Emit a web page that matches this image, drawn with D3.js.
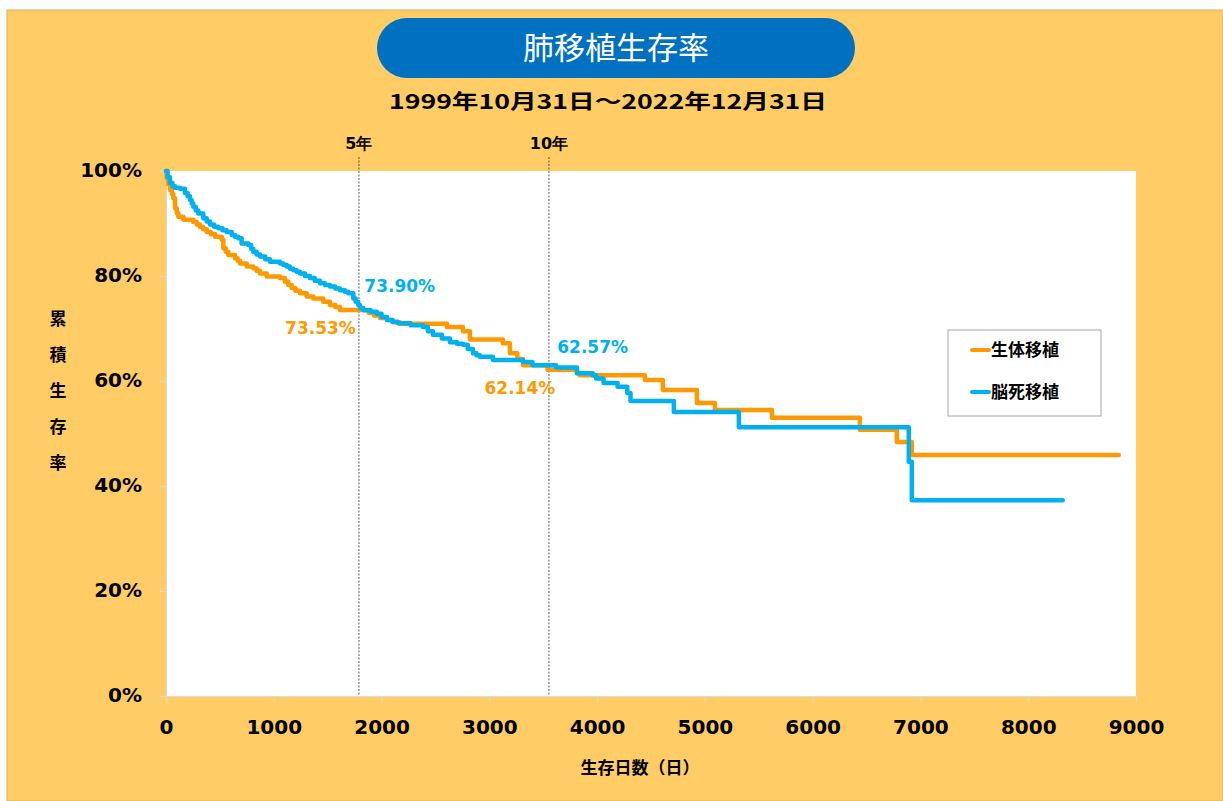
<!DOCTYPE html>
<html>
<head>
<meta charset="utf-8">
<script src="https://cdn.jsdelivr.net/npm/d3@7"></script>
<style>
  body { margin: 0; background: #fff; }
  svg { display: block; }
</style>
</head>
<body>
<svg id="chart" width="1223" height="801"></svg>
<script>
// 生存率データ[日数, 生存率%]
var livingDonor = [
  [0,100],[6,98.6],[20,97.5],[37,96.4],[55,95.6],[68,94.8],[84,92.9],[100,92.0],[114,91.3],
  [161,90.7],[253,90.3],[285,89.8],[315,89.4],[345,88.9],[378,88.4],[415,88.0],[455,87.5],
  [517,86.9],[532,85.3],[555,84.6],[578,84.0],[640,83.4],[665,82.9],[687,82.4],[749,81.8],
  [810,81.5],[840,81.0],[872,80.5],[934,79.9],[1058,79.6],[1104,78.9],[1135,78.3],[1166,77.7],
  [1200,77.2],[1243,76.7],[1305,76.1],[1367,75.7],[1459,75.1],[1522,74.5],[1570,74.1],
  [1614,73.53],[1880,73.0],[1930,72.5],[1985,72.0],[2050,71.6],[2106,71.2],[2170,70.9],
  [2607,70.3],[2755,69.5],[2820,67.9],[3126,67.2],[3191,65.3],[3260,64.2],[3312,63.0],
  [3540,62.14],[3813,61.5],[3840,61.1],[4443,60.2],[4610,58.3],[4926,55.8],[5093,54.5],
  [5622,53.0],[6438,50.7],[6781,48.4],[6920,45.9],[8840,45.9]
];
var brainDead = [
  [0,100],[15,98.8],[37,97.7],[60,97.1],[84,96.8],[130,96.6],[176,95.8],[200,95.2],[223,94.5],
  [238,93.8],[253,93.2],[276,92.5],[300,91.9],[346,91.0],[378,90.4],[408,89.8],[445,89.4],
  [485,89.1],[525,88.7],[563,88.4],[610,87.8],[640,87.5],[671,87.2],[702,86.2],[764,85.9],
  [790,85.2],[810,84.6],[840,84.1],[872,83.7],[920,83.2],[965,82.7],[1058,82.4],[1090,82.1],
  [1120,81.8],[1150,81.4],[1181,81.1],[1212,80.8],[1243,80.5],[1290,80.0],[1336,79.6],
  [1380,79.1],[1429,78.6],[1475,78.3],[1521,78.0],[1570,77.6],[1614,77.3],[1660,77.0],
  [1691,76.7],[1738,75.7],[1760,75.1],[1784,74.5],[1800,73.9],[1831,73.5],[1900,73.2],
  [1957,72.8],[2000,72.2],[2050,71.6],[2100,71.3],[2152,71.0],[2270,70.6],[2384,70.3],
  [2430,69.5],[2477,68.8],[2560,68.1],[2635,67.4],[2700,67.1],[2755,66.9],[2800,66.1],
  [2848,65.3],[2880,64.9],[2913,64.6],[3033,64.0],[3312,63.6],[3400,63.0],[3620,62.57],
  [3813,61.5],[3960,61.1],[3990,60.5],[4060,59.6],[4190,58.9],[4280,57.7],[4310,56.2],
  [4712,54.1],[5315,51.2],[6892,44.6],[6920,37.3],[8321,37.3]
];
var xTicks = [0,1000,2000,3000,4000,5000,6000,7000,8000,9000];
var yTicks = [0,20,40,60,80,100];
var markers = [{day: 1790, label: "5年"}, {day: 3553, label: "10年"}];
var notes = [
  {text: "73.90%", day: 1840, val: 77.0, color: "#00B0F0"},
  {text: "73.53%", day: 1105, val: 68.9, color: "#FF9900"},
  {text: "62.57%", day: 3630, val: 65.3, color: "#00B0F0"},
  {text: "62.14%", day: 2955, val: 57.6, color: "#FF9900"}
];

var orange = "#FF9900", blue = "#00B0F0";
var jp = "'Noto Sans CJK JP', sans-serif";
var num = "'DejaVu Sans', Verdana, sans-serif";

var svg = d3.select("#chart");

// 背景
svg.append("rect").attr("x",7).attr("y",10).attr("width",1216).attr("height",791)
  .attr("fill","#FFCC66").attr("stroke","#d9b066").attr("stroke-width",1);

// タイトル
svg.append("rect").attr("x",377).attr("y",18).attr("width",478).attr("height",60)
  .attr("rx",30).attr("fill","#0070C0");
svg.append("text").attr("x",616).attr("y",59).attr("text-anchor","middle")
  .attr("font-family",jp).attr("font-size",31).attr("fill","#fff")
  .text("肺移植生存率");
svg.append("text").attr("x",608).attr("y",109).attr("text-anchor","middle")
  .attr("font-family",jp).attr("font-weight","bold").attr("font-size",20).attr("fill","#000")
  .attr("textLength",438).attr("lengthAdjust","spacingAndGlyphs")
  .text("1999年10月31日～2022年12月31日");

var pL = 166, pR = 1136, pT = 171, pB = 696;
var x = d3.scaleLinear().domain([0,9000]).range([pL,pR]);
var y = d3.scaleLinear().domain([0,100]).range([pB,pT]);

svg.append("rect").attr("x",pL).attr("y",pT).attr("width",pR-pL).attr("height",pB-pT)
  .attr("fill","#fff");

// 軸
var xAxis = svg.append("g").attr("transform","translate(0,"+pB+")")
  .call(d3.axisBottom(x).tickValues(xTicks).tickSize(6).tickPadding(18).tickFormat(d3.format("d")));
var yAxis = svg.append("g").attr("transform","translate("+pL+",0)")
  .call(d3.axisLeft(y).tickValues(yTicks).tickSize(7).tickPadding(17).tickFormat(d=>d+"%"));
[xAxis,yAxis].forEach(a=>{
  a.select(".domain").attr("stroke","#d9d9d9");
  a.selectAll(".tick line").attr("stroke","#d9d9d9");
  a.selectAll("text").attr("font-family",num).attr("font-weight","bold")
    .attr("font-size",20).attr("fill","#000");
});
yAxis.selectAll("text").attr("dy","0.25em");

// 5年・10年
markers.forEach(m=>{
  svg.append("line").attr("x1",x(m.day)).attr("x2",x(m.day)).attr("y1",157).attr("y2",pB)
    .attr("stroke","#333").attr("stroke-width",0.8).attr("stroke-dasharray","2,1.5");
  svg.append("text").attr("x",x(m.day)).attr("y",149).attr("text-anchor","middle")
    .attr("font-family",num).attr("font-weight","bold").attr("font-size",16).attr("fill","#000")
    .text(m.label);
});

// 曲線
var line = d3.line().x(d=>x(d[0])).y(d=>y(d[1])).curve(d3.curveStepAfter);
svg.append("path").datum(livingDonor).attr("d",line).attr("fill","none")
  .attr("stroke",orange).attr("stroke-width",4.5).attr("stroke-linejoin","round").attr("stroke-linecap","round");
svg.append("path").datum(brainDead).attr("d",line).attr("fill","none")
  .attr("stroke",blue).attr("stroke-width",4.5).attr("stroke-linejoin","round").attr("stroke-linecap","round");

// 注記
notes.forEach(n=>{
  svg.append("text").attr("x",x(n.day)).attr("y",y(n.val)).attr("font-family",num)
    .attr("font-weight","bold").attr("font-size",17).attr("fill",n.color).text(n.text);
});

// 軸タイトル
svg.append("text").attr("x",640).attr("y",774).attr("text-anchor","middle")
  .attr("font-family",jp).attr("font-weight","bold").attr("font-size",17).attr("fill","#000")
  .text("生存日数（日）");
var yTitle = svg.append("text").attr("font-family",jp).attr("font-weight","bold")
  .attr("font-size",17).attr("fill","#000").attr("text-anchor","middle");
"累積生存率".split("").forEach((c,i)=>{
  yTitle.append("tspan").attr("x",58).attr("y",325+i*36).text(c);
});

// 凡例
var legend = svg.append("g");
legend.append("rect").attr("x",948).attr("y",330).attr("width",153).attr("height",86)
  .attr("fill","#fff").attr("stroke","#a6a6a6").attr("stroke-width",1);
[{name:"生体移植",color:orange,yy:350},{name:"脳死移植",color:blue,yy:392}].forEach(s=>{
  legend.append("line").attr("x1",972).attr("x2",989).attr("y1",s.yy).attr("y2",s.yy)
    .attr("stroke",s.color).attr("stroke-width",4).attr("stroke-linecap","round");
  legend.append("text").attr("x",991).attr("y",s.yy+6).attr("font-family",jp)
    .attr("font-weight","bold").attr("font-size",17).attr("fill","#000").text(s.name);
});
</script>
</body>
</html>
